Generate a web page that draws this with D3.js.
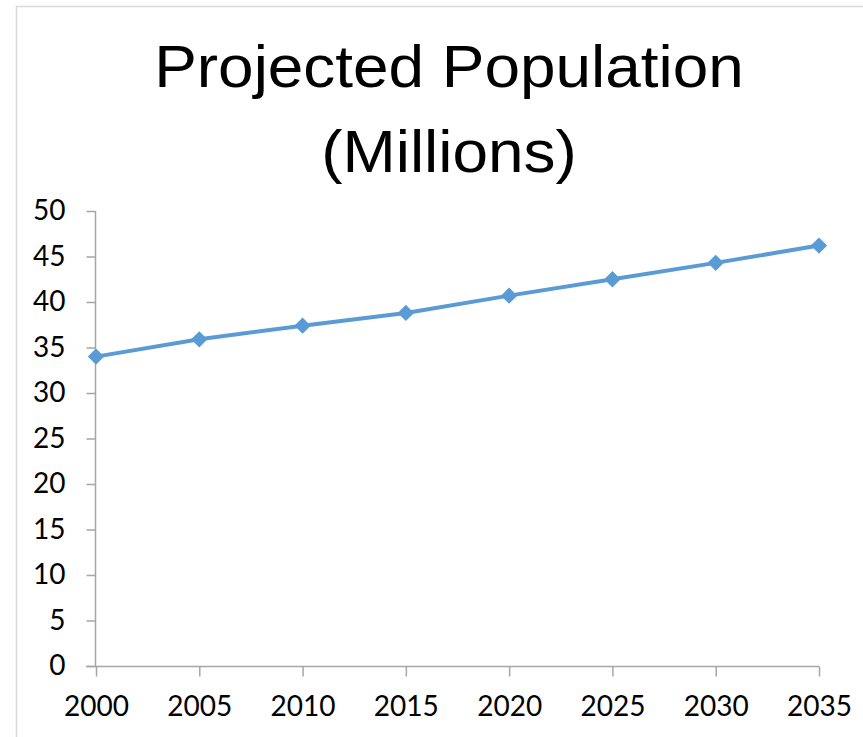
<!DOCTYPE html>
<html>
<head>
<meta charset="utf-8">
<script src="https://cdn.jsdelivr.net/npm/d3@7"></script>
<style>
	body { margin: 0; background: #fff; }
	.tick-label { font-family: Lato, "Open Sans", sans-serif; font-size: 28px; fill: #000; }
	.title { font-family: "Liberation Sans", Arial, sans-serif; font-size: 60px; fill: #000; }
</style>
</head>
<body>
<script>
// - data -

var years = [2000, 2005, 2010, 2015, 2020, 2025, 2030, 2035];
var population = [34.0, 35.9, 37.4, 38.8, 40.7, 42.5, 44.3, 46.2];
var yTicks = [0, 5, 10, 15, 20, 25, 30, 35, 40, 45, 50];
var titleLines = ['Projected Population', '(Millions)'];

// - global -

var width = 863;
var height = 737;

var svg = d3.select('body').append('svg')
	.attr('width', width)
	.attr('height', height);

var plot = { left: 96, right: 819, top: 211, bottom: 666 };
var lineColor = '#5b9bd5';
var axisColor = '#a6a6a6';

// chart border (only top/left visible in frame)
svg.append('rect')
	.attr('x', 16.5)
	.attr('y', 6.5)
	.attr('width', 900)
	.attr('height', 800)
	.attr('fill', 'none')
	.attr('stroke', '#d9d9d9')
	.attr('stroke-width', 1.5);

// - title -

// reference title is a bit wider than Liberation Sans, stretch it horizontally
var titleCx = 449;
svg.selectAll('.title')
	.data(titleLines).enter()
	.append('text')
		.attr('class', 'title')
		.attr('transform', function(d, i) { return 'translate(' + titleCx + ',' + (87 + i * 85) + ') scale(1.065,1)'; })
		.attr('text-anchor', 'middle')
		.text(function(d) { return d; });

// - scales -

var x = d3.scalePoint()
	.domain(years)
	.range([plot.left, plot.right]);

var y = d3.scaleLinear()
	.domain([0, 50])
	.range([plot.bottom, plot.top]);

// - axes -

var yAxis = svg.append('g')
	.attr('transform', 'translate(' + (plot.left - 0.5) + ',0)')
	.call(d3.axisLeft(y).tickValues(yTicks).tickSize(9).tickPadding(21).tickFormat(d3.format('d')));

var xAxis = svg.append('g')
	.attr('transform', 'translate(0,' + (plot.bottom + 0.5) + ')')
	.call(d3.axisBottom(x).tickSize(10).tickPadding(20).tickSizeOuter(0));

[xAxis, yAxis].forEach(function(ax) {
	ax.select('.domain').attr('stroke', axisColor).attr('stroke-width', 1.5);
	ax.selectAll('.tick line').attr('stroke', axisColor).attr('stroke-width', 1.5);
	ax.selectAll('.tick text').attr('class', 'tick-label').attr('font-family', null).attr('font-size', null);
});

// x-axis domain should stop at the last tick, y-axis domain runs from 0 to 50
xAxis.select('.domain').attr('d', 'M' + (plot.left - 10) + ',0H' + plot.right);
yAxis.select('.domain').attr('d', 'M0,' + plot.top + 'V' + plot.bottom);

// - series -

var line = d3.line()
	.x(function(d, i) { return x(years[i]); })
	.y(function(d) { return y(d); });

svg.append('path')
	.datum(population)
	.attr('fill', 'none')
	.attr('stroke', lineColor)
	.attr('stroke-width', 4)
	.attr('stroke-linejoin', 'round')
	.attr('d', line);

svg.selectAll('.marker')
	.data(population).enter()
	.append('path')
		.attr('class', 'marker')
		.attr('d', d3.symbol().type(d3.symbolDiamond2).size(170))
		.attr('transform', function(d, i) { return 'translate(' + x(years[i]) + ',' + y(d) + ')'; })
		.attr('fill', lineColor);
</script>
</body>
</html>
